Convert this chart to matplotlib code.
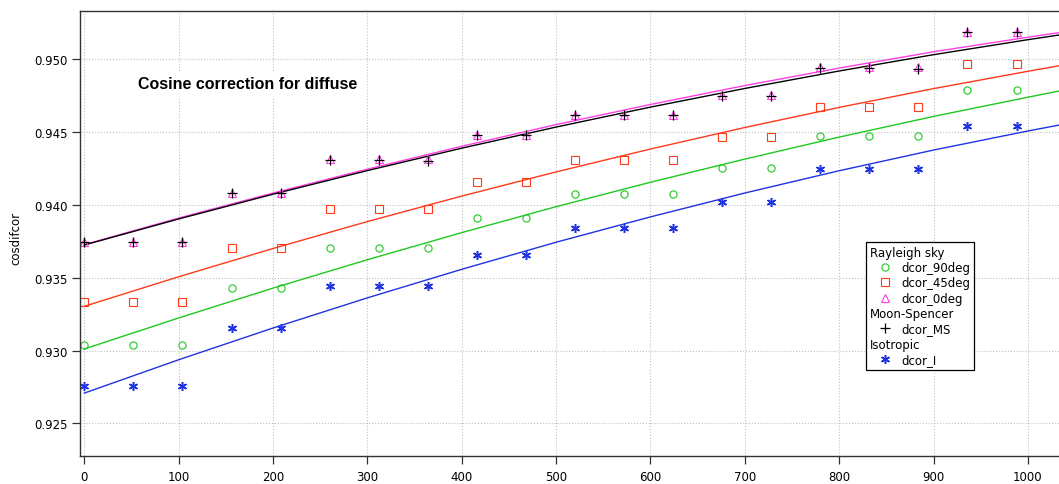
import matplotlib
matplotlib.use('Agg')
import matplotlib.pyplot as plt
from matplotlib.lines import Line2D
import numpy as np

# measured points (x in the same units as the axis)
x_pts = [0, 52, 104, 156, 208, 260, 312, 364, 416, 468,
         520, 572, 624, 676, 728, 780, 832, 884, 936, 988]

dcor_90deg = [0.93036, 0.93036, 0.93036, 0.93429, 0.93429, 0.93706, 0.93706, 0.93706, 0.93908, 0.93908,
              0.94073, 0.94073, 0.94073, 0.94253, 0.94253, 0.94475, 0.94475, 0.94475, 0.94787, 0.94787]
dcor_45deg = [0.93333, 0.93333, 0.93333, 0.93706, 0.93706, 0.93972, 0.93972, 0.93972, 0.94157, 0.94157,
              0.94308, 0.94308, 0.94308, 0.94468, 0.94468, 0.94674, 0.94674, 0.94674, 0.94966, 0.94966]
dcor_0deg = [0.93743, 0.93743, 0.93743, 0.94080, 0.94080, 0.94315, 0.94315, 0.94315, 0.94482, 0.94482,
             0.94621, 0.94621, 0.94621, 0.94755, 0.94755, 0.94945, 0.94945, 0.94945, 0.95190, 0.95190]
dcor_MS = [0.93743, 0.93743, 0.93743, 0.94080, 0.94080, 0.94310, 0.94310, 0.94305, 0.94480, 0.94478,
           0.94618, 0.94618, 0.94618, 0.94750, 0.94750, 0.94940, 0.94940, 0.94935, 0.95185, 0.95185]
dcor_I = [0.92756, 0.92756, 0.92756, 0.93155, 0.93155, 0.93445, 0.93445, 0.93445, 0.93658, 0.93658,
          0.93839, 0.93839, 0.93839, 0.94020, 0.94020, 0.94247, 0.94247, 0.94247, 0.94544, 0.94544]

# smooth model curves
fit_x = [0, 100, 200, 300, 400, 500, 600, 700, 800, 900, 1000, 1040]
fit_90deg = [0.93011, 0.93224, 0.93429, 0.93624, 0.93810, 0.93988, 0.94156, 0.94315, 0.94466, 0.94608, 0.94740, 0.94791]
fit_45deg = [0.93304, 0.93507, 0.93701, 0.93886, 0.94061, 0.94227, 0.94384, 0.94532, 0.94670, 0.94799, 0.94918, 0.94964]
fit_0deg = [0.93728, 0.93910, 0.94082, 0.94246, 0.94403, 0.94552, 0.94690, 0.94820, 0.94940, 0.95052, 0.95152, 0.95190]
fit_MS = [0.93725, 0.93904, 0.94074, 0.94236, 0.94390, 0.94535, 0.94672, 0.94800, 0.94920, 0.95032, 0.95135, 0.95174]
fit_I = [0.92708, 0.92937, 0.93155, 0.93362, 0.93558, 0.93744, 0.93918, 0.94082, 0.94235, 0.94377, 0.94508, 0.94557]

x_ticks = [0, 100, 200, 300, 400, 500, 600, 700, 800, 900, 1000]
y_ticks = [0.925, 0.930, 0.935, 0.940, 0.945, 0.950]

green = '#1fc81f'
red = '#ff3a1a'
pink = '#ff3ee6'
blue = '#1f33e0'

plt.rcParams['font.family'] = ['DejaVu Sans']

fig = plt.figure(figsize=(10.59, 4.85), dpi=100)
ax = fig.add_axes([80 / 1059, 1 - 456.7 / 485, 979 / 1059, 444.7 / 485])

ax.grid(True, color='#c0c0c0', linestyle=':', linewidth=0.8)
ax.set_axisbelow(True)

# curves
ax.plot(fit_x, fit_I, color=blue, lw=1.0)
ax.plot(fit_x, fit_90deg, color=green, lw=1.0)
ax.plot(fit_x, fit_45deg, color=red, lw=1.0)
ax.plot(fit_x, fit_0deg, color=pink, lw=1.0)
ax.plot(fit_x, fit_MS, color='black', lw=1.0)

# points
mk = dict(linestyle='none', markersize=5.2, markeredgewidth=0.8)
ax.plot(x_pts, dcor_90deg, marker='o', mfc='none', mec=green, **mk)
ax.plot(x_pts, dcor_45deg, marker='s', mfc='none', mec=red, **mk)
ax.plot(x_pts, dcor_0deg, marker='^', mfc='none', mec=pink, **mk)
ax.plot(x_pts, dcor_MS, marker='+', color='black', linestyle='none', markersize=6.5, markeredgewidth=0.9)
ax.plot(x_pts, dcor_I, marker=(6, 2, 0), color=blue, linestyle='none', markersize=6.5, markeredgewidth=1.1)

ax.set_xlim(-4.6, 1033)
ax.set_ylim(0.92278, 0.95332)
ax.set_xticks(x_ticks)
ax.set_yticks(y_ticks)
ax.set_yticklabels([f'{v:.3f}' for v in y_ticks])
ax.tick_params(direction='out', length=5.5, width=0.9, color='#333333', labelsize=8.5, pad=3.5)
ax.tick_params(axis='x', pad=4.5)
for s in ['left', 'bottom', 'top']:
    ax.spines[s].set_color('#333333')
    ax.spines[s].set_linewidth(1.0)
ax.spines['right'].set_visible(False)

ax.set_ylabel('cosdifcor', fontsize=8.5)
ax.yaxis.set_label_coords(-0.059, 0.49)

ax.text(0.1716, 0.836, 'Cosine correction for diffuse', transform=ax.transAxes,
        ha='center', va='center', fontsize=11.5, fontweight='bold',
        family='Liberation Sans',
        bbox=dict(facecolor='white', edgecolor='none', pad=4))

# legend with group headers
blank = Line2D([], [], linestyle='none', marker='none')
handles = [
    blank,
    Line2D([], [], linestyle='none', marker='o', mfc='none', mec=green, markersize=5.2, markeredgewidth=0.8),
    Line2D([], [], linestyle='none', marker='s', mfc='none', mec=red, markersize=5.2, markeredgewidth=0.8),
    Line2D([], [], linestyle='none', marker='^', mfc='none', mec=pink, markersize=5.2, markeredgewidth=0.8),
    blank,
    Line2D([], [], linestyle='none', marker='+', color='black', markersize=6.5, markeredgewidth=0.9),
    blank,
    Line2D([], [], linestyle='none', marker=(6, 2, 0), color=blue, markersize=6.5, markeredgewidth=1.1),
]
labels = ['Rayleigh sky', 'dcor_90deg', 'dcor_45deg', 'dcor_0deg',
          'Moon-Spencer', 'dcor_MS', 'Isotropic', 'dcor_I']
headers = ['Rayleigh sky', 'Moon-Spencer', 'Isotropic']

leg = ax.legend(handles, labels, loc='upper left', bbox_to_anchor=(0.803, 0.4805),
                fontsize=8.5, frameon=True, fancybox=False, framealpha=1,
                edgecolor='black', borderpad=0.3, borderaxespad=0,
                handlelength=2.6, handletextpad=0.1, labelspacing=0.2)
leg.get_frame().set_linewidth(0.9)
for col in leg._legend_handle_box.get_children():
    for row in col.get_children():
        handle_area, text_area = row.get_children()
        if text_area.get_text() in headers:
            handle_area.width = 0
            row.sep = 0

fig.savefig('out.png', dpi=100)
